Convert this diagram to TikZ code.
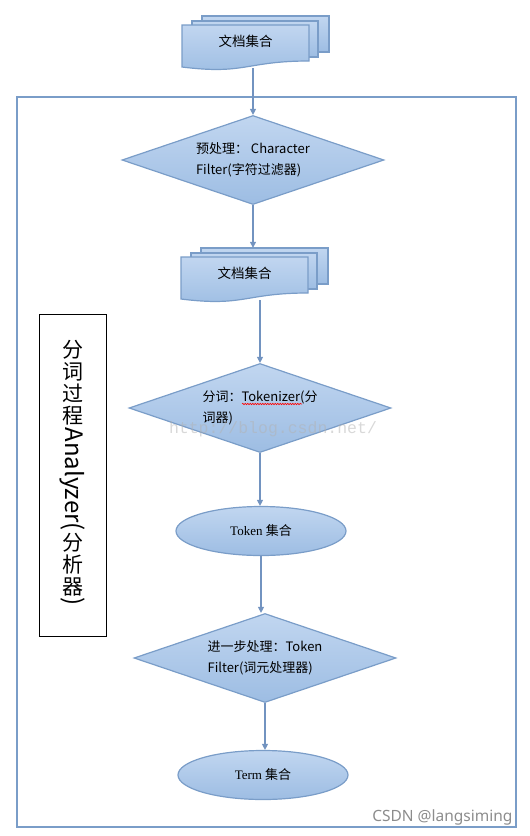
\documentclass[tikz,border=0pt]{standalone}
\usepackage{fontspec}
\setmainfont{Liberation Serif}
\newfontfamily\cjk{Noto Sans CJK SC}
\newfontfamily\wmfont{Noto Sans}
\newfontfamily\wmmono{Liberation Mono}
\usetikzlibrary{shapes.geometric,arrows.meta,positioning,decorations.pathmorphing}

\definecolor{boxtop}{RGB}{193,214,240}
\definecolor{boxbot}{RGB}{157,189,227}
\definecolor{boxedge}{RGB}{122,157,200}
\definecolor{linkc}{RGB}{114,147,192}

\tikzstyle{flow}=[draw=boxedge,line width=1.2pt,top color=boxtop,bottom color=boxbot]
\tikzstyle{decide}=[flow,diamond,aspect=2.9,inner sep=0pt,minimum width=262pt,minimum height=89pt,align=left,font=\cjk\fontsize{13}{21}\selectfont]
\tikzstyle{pool}=[flow,ellipse,minimum width=170pt,minimum height=49pt,font=\fontsize{13}{15}\selectfont]
\tikzstyle{link}=[draw=linkc,line width=1.2pt,-{Triangle[width=6pt,length=6pt]}]
\tikzstyle{vchar}=[inner sep=0pt,font=\cjk\fontsize{21}{22}\selectfont,align=center]

% stack of documents: name, left, top, text
\newcommand{\docstack}[4]{%
  \draw[flow] (#2+20,#3-9) rectangle (#2+147,#3+27);
  \draw[flow] (#2+10,#3-4) rectangle (#2+136,#3+32);
  \draw[flow] (#2,#3) -- (#2+127,#3) -- (#2+127,#3+36) .. controls (#2+63.5,#3+36) and (#2+63.5,#3+50) .. (#2,#3+42) -- cycle;
  \node[minimum width=147pt,minimum height=52pt,inner sep=0pt] (#1) at (#2+73.5,#3+17) {};
  \node[font=\cjk\fontsize{13.5}{15}\selectfont] (#1-t) at (#2+63.5,#3+16) {#4};
}

\begin{document}
\begin{tikzpicture}[x=1pt,y=-1pt]
\useasboundingbox (0,0) rectangle (530,836);

% analyzer frame
\draw[boxedge,line width=2pt] (17,97) rectangle (516,827);

\docstack{doc1}{182}{25}{文档集合}
\node[decide] (d1) at (253,160) {预处理： Character\\Filter(字符过滤器)};
\docstack{doc2}{181}{257}{文档集合}
\node[decide] (d2) at (260,408) {分词：Tokenizer(分\\词器)};
\node[pool] (tok) at (261,531) {Token {\cjk 集合}};
\node[decide] (d3) at (265,658) {进一步处理：Token\\Filter(词元处理器)};
\node[pool] (term) at (263,775) {Term {\cjk 集合}};

\draw[link] (doc1.south -| d1.north) -- (d1.north);
\draw[link] (d1.south) -- (d1.south |- doc2.north);
\draw[link] (doc2.south -| d2.north) -- (d2.north);
\draw[link] (d2.south) -- (d2.south |- tok.north);
\draw[link] (tok.south) -- (tok.south |- d3.north);
\draw[link] (d3.south) -- (d3.south |- term.north);

% spell check mark
\draw[red,line width=0.6pt,decorate,decoration={snake,amplitude=0.7pt,segment length=2.5pt}] (242,404) -- (302,404);

% vertical title
\node[draw=black,line width=0.8pt,minimum width=67pt,minimum height=322pt] (vbox) at (72.5,475) {};
\node[vchar,anchor=north] (v1) at (72.5,340) {分\\词\\过\\程};
\node[vchar,below=2pt of v1] (v2) {\rotatebox{-90}{\fontsize{24}{24}\selectfont Analyzer(}};
\node[vchar,below=2pt of v2] (v3) {分\\析\\器};
\node[vchar,below=1pt of v3] (v4) {\rotatebox{-90}{\fontsize{24}{24}\selectfont )}};

% watermarks
\node[text=white!70!black,opacity=0.5,font=\wmmono\fontsize{16.5}{17}\selectfont] (wm) at (273,429) {http://blog.csdn.net/};
\node[anchor=east,text=black!45,font=\wmfont\fontsize{15.5}{16}\selectfont] (mark) at (516,817) {CSDN @langsiming};
\end{tikzpicture}
\end{document}
